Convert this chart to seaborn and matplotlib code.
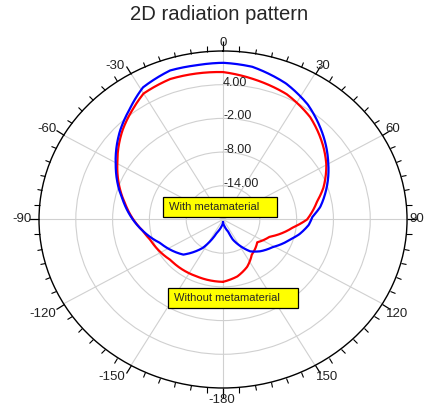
import numpy as np
import pandas as pd
import matplotlib
matplotlib.use("Agg")
import matplotlib.pyplot as plt
from matplotlib.patches import Rectangle
import seaborn as sns

# Gain (dB) versus angle (deg) for the two antenna configurations
angles_with = [-180, -168, -157, -147, -134, -112, -99, -78, -61, -47, -38, -29,
               -18, -9, 0, 10, 23, 34, 44, 59, 71, 75, 82, 88, 94, 102, 107,
               121, 133, 142, 156, 159, 168, 180]
gain_with = [-19.5, -18.7, -17.5, -14.0, -11.0, -8.9, -6.8, -3.3, 0.0, 3.0, 4.8, 6.9,
             7.9, 7.8, 7.9, 7.6, 6.3, 4.7, 2.8, 0.0, -2.1, -2.8, -4.0, -5.4, -6.0, -7.3, -8.3,
             -10.5, -11.7, -12.8, -16.1, -17.7, -18.7, -19.5]

angles_without = [-180, -157, -130, -107, -99, -80, -60, -46, -37, -30, -19, 0,
                  11, 25, 38, 52, 60, 71, 78, 84, 90, 97, 112, 126, 135, 143,
                  155, 167, 180]
gain_without = [-8.9, -9.0, -8.8, -7.6, -6.8, -3.8, -0.1, 2.8, 4.5, 5.9, 6.45, 6.25,
                5.5, 4.6, 3.1, 0.8, -0.55, -2.7, -4.3, -5.3, -6.3, -8.5, -11.8, -13.1, -12.6, -12.2,
                -10.7, -9.6, -8.9]

series_names = ["Without metamaterial", "With metamaterial"]
series_colors = {"Without metamaterial": "#ff0000", "With metamaterial": "#0000ff"}

angle_ticks = [0, 30, 60, 90, 120, 150, 180, 210, 240, 270, 300, 330]
angle_tick_labels = ["0", "30", "60", "90", "120", "150", "-180", "-150", "-120", "-90", "-60", "-30"]
radial_ticks = [-14, -8, -2, 4]
r_min, r_max = -20, 10

# pixel offsets of each angle label from its point on the rim
label_offsets = [(0, 8), (8, 7.5), (10, 6), (10, 0), (15, -10), (12, -11.5),
                 (-1, -12), (-19, -11.5), (-21, -10), (-17, 0), (-17, 6), (-16, 7.5)]

df = pd.concat([
    pd.DataFrame({"theta": np.deg2rad(angles_without), "gain": gain_without,
                  "series": series_names[0]}),
    pd.DataFrame({"theta": np.deg2rad(angles_with), "gain": gain_with,
                  "series": series_names[1]}),
], ignore_index=True)

sns.set_style("white")
plt.rcParams["font.family"] = ["Liberation Sans", "DejaVu Sans"]

fig = plt.figure(figsize=(4.24, 4.07), dpi=100)
ax = fig.add_axes([0.092, 0.0467, 0.868, 0.828], projection="polar")
ax.set_aspect("auto")
ax.set_theta_zero_location("N")
ax.set_theta_direction(-1)

sns.lineplot(data=df, x="theta", y="gain", hue="series", palette=series_colors,
             sort=False, estimator=None, linewidth=1.6, legend=False, ax=ax)
ax.set_xlabel("")
ax.set_ylabel("")

# draw the segments as arcs in polar space rather than straight chords
for line in ax.lines:
    line.get_path()._interpolation_steps = 40

ax.set_ylim(r_min, r_max)
ax.set_yticks(radial_ticks)
ax.yaxis.set_ticklabels([])
ax.set_xticks(np.deg2rad(angle_ticks))
ax.xaxis.set_ticklabels([])
ax.set_xticks(np.deg2rad(np.arange(0, 360, 5)), minor=True)
ax.grid(True, color="#d0d0d0", linewidth=0.8)
ax.tick_params(axis="x", which="both", bottom=False, top=True)
ax.tick_params(axis="x", which="major", direction="out", length=7, width=0.9,
               color="black")
ax.tick_params(axis="x", which="minor", direction="out", length=4, width=0.8,
               color="black")
ax.spines["polar"].set_color("black")
ax.spines["polar"].set_linewidth(1.0)

# angle labels just outside the rim
for deg, lab, (dx, dy) in zip(angle_ticks, angle_tick_labels, label_offsets):
    ax.annotate(lab, xy=(np.deg2rad(deg), r_max), xytext=(dx, dy), textcoords="offset pixels",
                ha="center", va="center", fontsize=9.5, color="#222222",
                annotation_clip=False)

for v in radial_ticks:
    ax.annotate(f"{v:.2f}", xy=(0, v), xytext=(0, 1.5), textcoords="offset points",
                ha="left", va="center", fontsize=9, color="#222222")

fig.text(219 / 424, 1 - 14 / 407, "2D radiation pattern", ha="center", va="center",
         fontsize=14.6)

# yellow callout labels
def callout(text, left, top, width, height):
    fig.add_artist(Rectangle((left / 424, 1 - (top + height) / 407), width / 424, height / 407,
                             transform=fig.transFigure, facecolor="#ffff00",
                             edgecolor="black", linewidth=0.9, zorder=5))
    fig.text((left + 6) / 424, 1 - (top + height / 2) / 407, text, ha="left", va="center",
             fontsize=8, zorder=6)

callout("With metamaterial", 163, 197, 114, 20)
callout("Without metamaterial", 168, 288, 130, 20)

fig.savefig("out.png", dpi=100)
